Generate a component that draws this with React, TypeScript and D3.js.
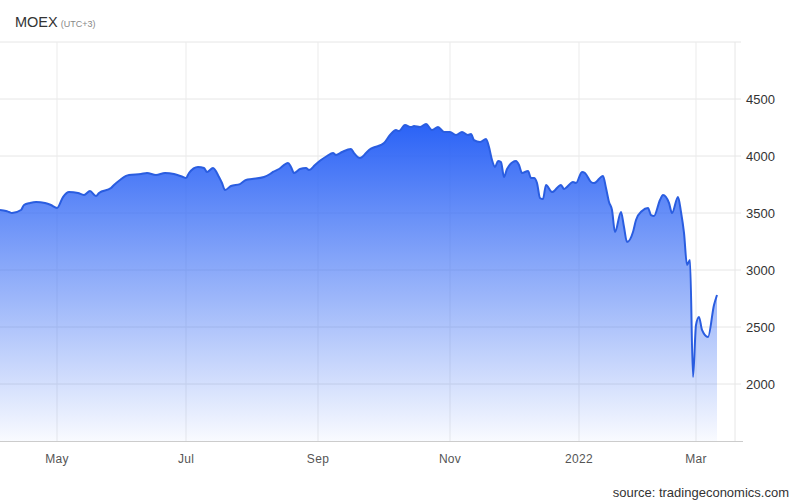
import React from "react";
import * as d3 from "d3";

// trading-day index and MOEX index value
const tradingDay: number[] = [
  0, 2, 3, 4, 7, 8, 10, 12, 15, 17, 19, 21, 23, 26, 28, 30, 32, 33, 37, 38, 40, 42, 43, 47, 49, 52, 55, 58, 61, 62,
  63, 66, 68, 69, 71, 73, 74, 75, 77, 80, 82, 84, 88, 90, 91, 93, 96, 97, 98, 100, 102, 103, 105, 107, 109, 111, 112,
  114, 117, 118, 120, 122, 123, 125, 127, 128, 130, 132, 133, 135, 137, 138, 140, 142, 144, 146, 148, 150, 152, 154,
  156, 157, 158, 160, 162, 163, 164, 165, 166, 167, 168, 169, 172, 173, 174, 176, 177, 178, 179, 180, 181, 182, 184,
  187, 188, 191, 192, 194, 195, 197, 198, 201, 202, 203, 204, 205, 207, 208, 209, 211, 212, 214, 216, 217, 218, 220,
  221, 223, 224, 226, 227, 228, 229, 230, 231, 232, 233, 234, 236, 238, 239,
];
const moexValues: number[] = [
  3526, 3518, 3509, 3500, 3526, 3570, 3588, 3597, 3588, 3570, 3544, 3640, 3684, 3675, 3658, 3693, 3649, 3675, 3719,
  3746, 3790, 3825, 3833, 3842, 3851, 3833, 3851, 3842, 3816, 3807, 3851, 3904, 3895, 3860, 3895, 3816, 3763, 3702,
  3737, 3754, 3790, 3798, 3816, 3842, 3860, 3886, 3939, 3904, 3851, 3886, 3895, 3877, 3921, 3965, 4000, 4026, 4009,
  4035, 4061, 4026, 3982, 4026, 4053, 4079, 4097, 4114, 4184, 4228, 4219, 4272, 4254, 4263, 4254, 4281, 4228, 4254,
  4211, 4211, 4184, 4211, 4184, 4193, 4140, 4123, 4149, 4079, 3965, 3904, 3956, 3947, 3816, 3886, 3956, 3921, 3851,
  3868, 3807, 3807, 3763, 3632, 3623, 3746, 3684, 3746, 3711, 3772, 3763, 3860, 3851, 3772, 3763, 3825, 3719, 3597,
  3526, 3333, 3509, 3377, 3246, 3333, 3439, 3518, 3544, 3482, 3474, 3614, 3658, 3588, 3500, 3640, 3509, 3325, 3044,
  3088, 2061, 2518, 2588, 2474, 2412, 2693, 2781,
];

const xTickLabels: string[] = ["May", "Jul", "Sep", "Nov", "2022", "Mar"];
const xTickDays: number[] = [19, 62, 106, 150, 193, 232];
const yTickValues: number[] = [2000, 2500, 3000, 3500, 4000, 4500];
const yGridValues: number[] = [5000];

const W = 800;
const H = 502;
const plotLeft = 0;
const plotRight = 735;
const plotTop = 42;
const plotBottom = 441;
const FONT = "Arial, 'Liberation Sans', sans-serif";

export default function App() {
  const data = tradingDay.map((t, i) => ({ t, v: moexValues[i] }));
  const x = d3.scaleLinear().domain([0, 245]).range([plotLeft, plotRight]);
  const y = d3.scaleLinear().domain([1500, 5000]).range([plotBottom, plotTop]);

  const line = d3
    .line<{ t: number; v: number }>()
    .x((d) => x(d.t))
    .y((d) => y(d.v))
    .curve(d3.curveMonotoneX);
  const area = d3
    .area<{ t: number; v: number }>()
    .x((d) => x(d.t))
    .y0(plotBottom)
    .y1((d) => y(d.v))
    .curve(d3.curveMonotoneX);

  const maxV = d3.max(moexValues) as number;

  return (
    <svg
      width={W}
      height={H}
      style={{ position: "fixed", left: 0, top: 0, background: "#fff" }}
      fontFamily={FONT}
    >
      <defs>
        <linearGradient id="areaGrad" gradientUnits="userSpaceOnUse" x1={0} x2={0} y1={y(maxV)} y2={plotBottom}>
          <stop offset="0%" stopColor="#2a62f6" stopOpacity={1} />
          <stop offset="55%" stopColor="#3a6ef5" stopOpacity={0.5} />
          <stop offset="80%" stopColor="#3a6ef5" stopOpacity={0.24} />
          <stop offset="100%" stopColor="#3a6ef5" stopOpacity={0.03} />
        </linearGradient>
      </defs>

      {/* horizontal gridlines */}
      {[...yTickValues, ...yGridValues].map((v) => (
        <line key={"h" + v} x1={plotLeft} x2={plotRight + 6} y1={y(v)} y2={y(v)} stroke="#e6e6e6" strokeWidth={1} />
      ))}
      {/* vertical gridlines */}
      {xTickDays.map((t, i) => (
        <line key={"v" + i} x1={x(t)} x2={x(t)} y1={plotTop} y2={plotBottom} stroke="#ebebeb" strokeWidth={1} />
      ))}
      <line x1={plotRight} x2={plotRight} y1={plotTop} y2={plotBottom} stroke="#e6e6e6" strokeWidth={1} />

      <path d={area(data) as string} fill="url(#areaGrad)" />
      <path d={line(data) as string} fill="none" stroke="#2a5de0" strokeWidth={2} strokeLinejoin="round" />

      {/* bottom axis line */}
      <line x1={plotLeft} x2={plotRight + 8} y1={plotBottom + 0.5} y2={plotBottom + 0.5} stroke="#cccccc" strokeWidth={1} />

      {/* y labels */}
      {yTickValues.map((v) => (
        <text key={"yl" + v} x={746} y={y(v)} dy="0.35em" fontSize={13} fill="#333">
          {v}
        </text>
      ))}
      {/* x labels */}
      {xTickDays.map((t, i) => (
        <text key={"xl" + i} x={x(t)} y={463} textAnchor="middle" fontSize={12} fill="#555" letterSpacing={0.3}>
          {xTickLabels[i]}
        </text>
      ))}

      <text x={15} y={27} fontSize={14.5} fill="#333">
        MOEX
        <tspan fontSize={9} fill="#888" dx={3}>
          (UTC+3)
        </tspan>
      </text>
      <text x={789} y={497} textAnchor="end" fontSize={13} fill="#333">
        source: tradingeconomics.com
      </text>
    </svg>
  );
}
